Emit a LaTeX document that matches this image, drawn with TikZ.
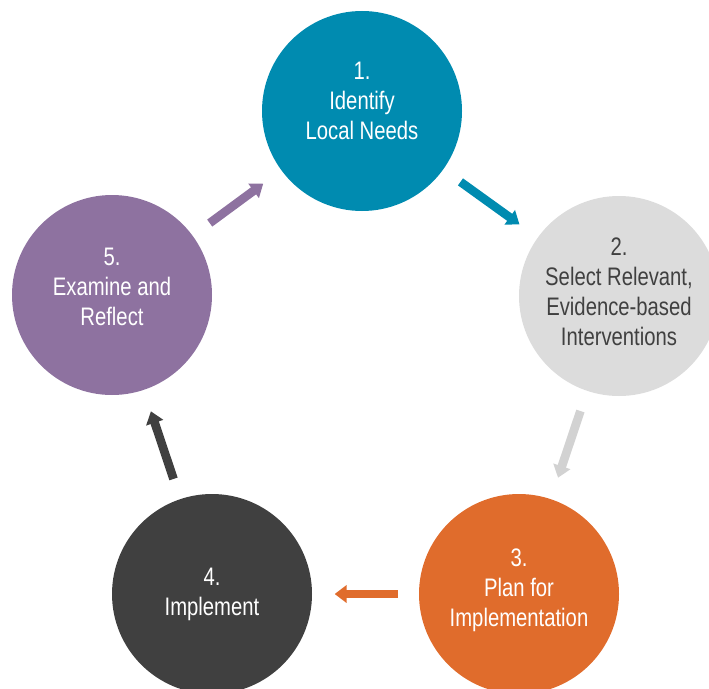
\documentclass[tikz,border=0pt]{standalone}
\usepackage{fontspec}
\setmainfont[FakeStretch=0.8]{Liberation Sans}
\usepackage{tikz}
\usetikzlibrary{arrows.meta, positioning}
\definecolor{stepteal}{RGB}{0,139,176}
\definecolor{steplight}{RGB}{220,220,220}
\definecolor{steparrowlight}{RGB}{210,210,210}
\definecolor{steporange}{RGB}{224,108,44}
\definecolor{stepdark}{RGB}{64,64,64}
\definecolor{steppurple}{RGB}{142,114,160}
\tikzstyle{stage} = [circle, minimum size=150pt, inner sep=0pt, outer sep=0pt]
\tikzstyle{stagetext} = [align=center, text=white, font=\fontsize{19}{22.5}\selectfont]
\tikzstyle{flow} = [line width=6.5pt, -{Triangle[width=13pt,length=9pt]}, shorten <=16pt, shorten >=17pt]

\begin{document}
\begin{tikzpicture}[x=0.75pt, y=-0.75pt]
\useasboundingbox (0,0) rectangle (709,688);
\node (identify) [stage, fill=stepteal, label={[stagetext, yshift=7.5pt]center:{1.\\Identify\\Local Needs}}] at (362,111) {};
\node (select) [stage, fill=steplight, label={[stagetext, text=stepdark, yshift=3pt]center:{2.\\Select Relevant,\\Evidence-based\\Interventions}}] at (619,296) {};
\node (plan) [stage, fill=steporange, label={[stagetext, yshift=3pt]center:{3.\\Plan for\\Implementation}}] at (519,594) {};
\node (implement) [stage, fill=stepdark, label={[stagetext]center:{4.\\Implement}}] at (212,594) {};
\node (examine) [stage, fill=steppurple, label={[stagetext, yshift=6pt]center:{5.\\Examine and\\Reflect}}] at (112,295) {};

\draw [flow, stepteal] (identify) -- (select);
\draw [flow, steparrowlight] (select) -- (plan);
\draw [flow, steporange] (plan) -- (implement);
\draw [flow, stepdark] (implement) -- (examine);
\draw [flow, steppurple] (examine) -- (identify);
\end{tikzpicture}
\end{document}
